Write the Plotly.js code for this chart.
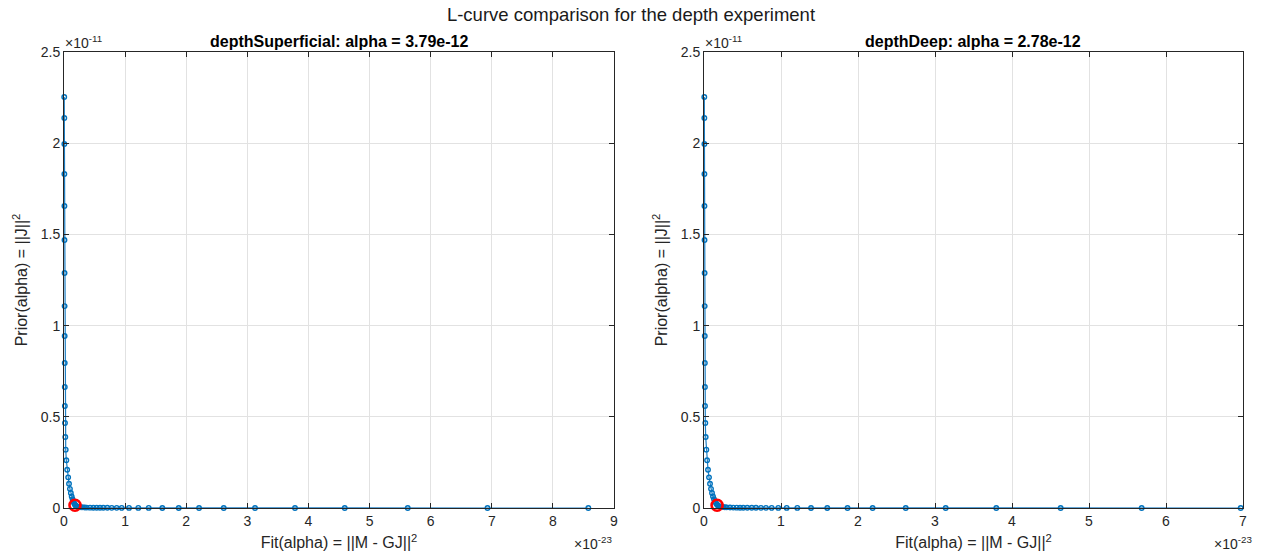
<!DOCTYPE html>
<html>
<head>
<meta charset="utf-8">
<script src="https://cdn.plot.ly/plotly-3.0.1.min.js"></script>
<style>
html,body{margin:0;padding:0;background:#fff;}
#chart{width:1262px;height:559px;}
</style>
</head>
<body>
<div id="chart"></div>
<script>
// Values in axis units: x in 1e-23, y in 1e-11
const xExponent = -23;
const yExponent = -11;

const priorValues = [2.253, 2.138, 1.996, 1.831, 1.656, 1.469, 1.288, 1.107, 0.943, 0.795, 0.663, 0.559, 0.466, 0.389, 0.32, 0.262, 0.21, 0.168, 0.133, 0.105, 0.082, 0.063, 0.048, 0.036, 0.026,
  0.019, 0.014, 0.010, 0.0075, 0.0058, 0.0046, 0.0038, 0.0032, 0.0027, 0.0023, 0.002, 0.0017, 0.0015, 0.0013, 0.0011, 0.0010, 0.0009, 0.0008, 0.0007, 0.0006, 0.0005, 0.00045, 0.0004, 0.00035, 0.0003, 0.00025, 0.0002, 0.00017, 0.00014, 0.00012, 0.0001, 0.00008];

const fitSuperficial = [0.004, 0.005, 0.0055, 0.006, 0.007, 0.008, 0.009, 0.010, 0.011, 0.012, 0.013, 0.014, 0.016, 0.021, 0.028, 0.038, 0.052, 0.068, 0.082, 0.097, 0.112, 0.126, 0.14, 0.153, 0.166,
  0.178, 0.19, 0.203, 0.218, 0.235, 0.255, 0.28, 0.31, 0.34, 0.372, 0.426, 0.48, 0.535, 0.589, 0.643, 0.709, 0.781, 0.862, 0.944, 1.064, 1.216, 1.386, 1.609, 1.877, 2.21, 2.614, 3.126, 3.78, 4.594, 5.625, 6.93, 8.58];

const fitDeep = [0.004, 0.0045, 0.005, 0.0055, 0.006, 0.007, 0.008, 0.009, 0.010, 0.011, 0.012, 0.013, 0.017, 0.022, 0.03, 0.04, 0.052, 0.065, 0.078, 0.091, 0.104, 0.117, 0.13, 0.143, 0.156,
  0.168, 0.18, 0.194, 0.21, 0.228, 0.25, 0.272, 0.295, 0.338, 0.38, 0.425, 0.468, 0.51, 0.562, 0.62, 0.675, 0.74, 0.805, 0.879, 0.965, 1.074, 1.212, 1.39, 1.601, 1.864, 2.19, 2.62, 3.139, 3.796, 4.632, 5.684, 6.97];

const chosenSuperficial = {x: [0.18], y: [0.015]};
const chosenDeep = {x: [0.17], y: [0.015]};

const panelTitles = ['depthSuperficial: alpha = 3.79e-12', 'depthDeep: alpha = 2.78e-12'];
const xTicksLeft = [0,1,2,3,4,5,6,7,8,9];
const xTicksRight = [0,1,2,3,4,5,6,7];
const yTicks = [0, 0.5, 1, 1.5, 2, 2.5];
const yTickText = ['0','0.5','1','1.5','2','2.5'];

const W = 1262, H = 559;
const blue = '#0072BD';
const ink = '#262626';
const font = 'Liberation Sans, Arial, Helvetica, sans-serif';

function curve(x, y, xa, ya) {
  return {x: x, y: y, xaxis: xa, yaxis: ya, type: 'scatter', mode: 'lines+markers',
    line: {color: '#1f7fc4', width: 1.2},
    marker: {symbol: 'circle-open', size: 4.5, color: blue, line: {width: 1.4, color: '#1a78c2'}},
    showlegend: false, hoverinfo: 'x+y', cliponaxis: false};
}
function chosen(p, xa, ya) {
  return {x: p.x, y: p.y, xaxis: xa, yaxis: ya, type: 'scatter', mode: 'markers',
    marker: {symbol: 'circle-open', size: 11, color: '#FF0000', line: {width: 2.6, color: '#FF0000'}},
    showlegend: false, cliponaxis: false};
}

const data = [
  curve(fitSuperficial, priorValues, 'x', 'y'),
  chosen(chosenSuperficial, 'x', 'y'),
  curve(fitDeep, priorValues, 'x2', 'y2'),
  chosen(chosenDeep, 'x2', 'y2')
];

const yDom = [1 - 508/H, 1 - 52/H];
function xAxis(dom, range, ticks) {
  return {domain: dom, range: range, tickvals: ticks, ticktext: ticks.map(String),
    ticks: 'inside', ticklen: 5, tickwidth: 1, tickcolor: ink,
    showline: true, linecolor: ink, linewidth: 1, mirror: 'allticks',
    showgrid: true, gridcolor: '#e2e2e2', gridwidth: 1, zeroline: false,
    tickfont: {family: font, size: 14, color: ink},
    title: {text: 'Fit(alpha) = ||M - GJ||<sup>2</sup>', font: {family: font, size: 16, color: ink}, standoff: 9},
    automargin: false, fixedrange: true};
}
function yAxis(anchor) {
  return {domain: yDom, anchor: anchor, range: [0, 2.5], tickvals: yTicks, ticktext: yTickText,
    ticks: 'inside', ticklen: 5, tickwidth: 1, tickcolor: ink,
    showline: true, linecolor: ink, linewidth: 1, mirror: 'allticks',
    showgrid: true, gridcolor: '#e2e2e2', gridwidth: 1, zeroline: false,
    tickfont: {family: font, size: 14, color: ink},
    title: {text: 'Prior(alpha) = ||J||<sup>2</sup>', font: {family: font, size: 16, color: ink}, standoff: 9},
    automargin: false, fixedrange: true};
}

const layout = {
  width: W, height: H,
  margin: {l: 0, r: 0, t: 0, b: 0},
  paper_bgcolor: '#ffffff', plot_bgcolor: '#ffffff',
  title: {text: 'L-curve comparison for the depth experiment', font: {family: font, size: 18.5, color: '#1a1a1a'},
    x: 0.5, xanchor: 'center', y: 1 - 15/H, yanchor: 'middle', xref: 'paper', yref: 'paper'},
  xaxis: Object.assign(xAxis([64/W, 614/W], [0, 9], xTicksLeft), {anchor: 'y'}),
  yaxis: yAxis('x'),
  xaxis2: Object.assign(xAxis([704/W, 1243/W], [0, 7], xTicksRight), {anchor: 'y2'}),
  yaxis2: yAxis('x2'),
  annotations: [
    {text: '<b>' + panelTitles[0] + '</b>', x: 339/W, y: 1 - 41/H, xref: 'paper', yref: 'paper', xanchor: 'center', yanchor: 'middle', showarrow: false, font: {family: font, size: 16, color: '#000'}},
    {text: '<b>' + panelTitles[1] + '</b>', x: 973.5/W, y: 1 - 41/H, xref: 'paper', yref: 'paper', xanchor: 'center', yanchor: 'middle', showarrow: false, font: {family: font, size: 16, color: '#000'}},
    {text: '×10<sup>' + yExponent + '</sup>', x: 63/W, y: 1 - 42/H, xref: 'paper', yref: 'paper', xanchor: 'left', yanchor: 'middle', showarrow: false, font: {family: font, size: 14, color: ink}},
    {text: '×10<sup>' + yExponent + '</sup>', x: 703/W, y: 1 - 42/H, xref: 'paper', yref: 'paper', xanchor: 'left', yanchor: 'middle', showarrow: false, font: {family: font, size: 14, color: ink}},
    {text: '×10<sup>' + xExponent + '</sup>', x: 614/W, y: 1 - 543/H, xref: 'paper', yref: 'paper', xanchor: 'right', yanchor: 'middle', showarrow: false, font: {family: font, size: 14, color: ink}},
    {text: '×10<sup>' + xExponent + '</sup>', x: 1254/W, y: 1 - 543/H, xref: 'paper', yref: 'paper', xanchor: 'right', yanchor: 'middle', showarrow: false, font: {family: font, size: 14, color: ink}}
  ]
};

Plotly.newPlot('chart', data, layout, {displayModeBar: false, staticPlot: true});
</script>
</body>
</html>
